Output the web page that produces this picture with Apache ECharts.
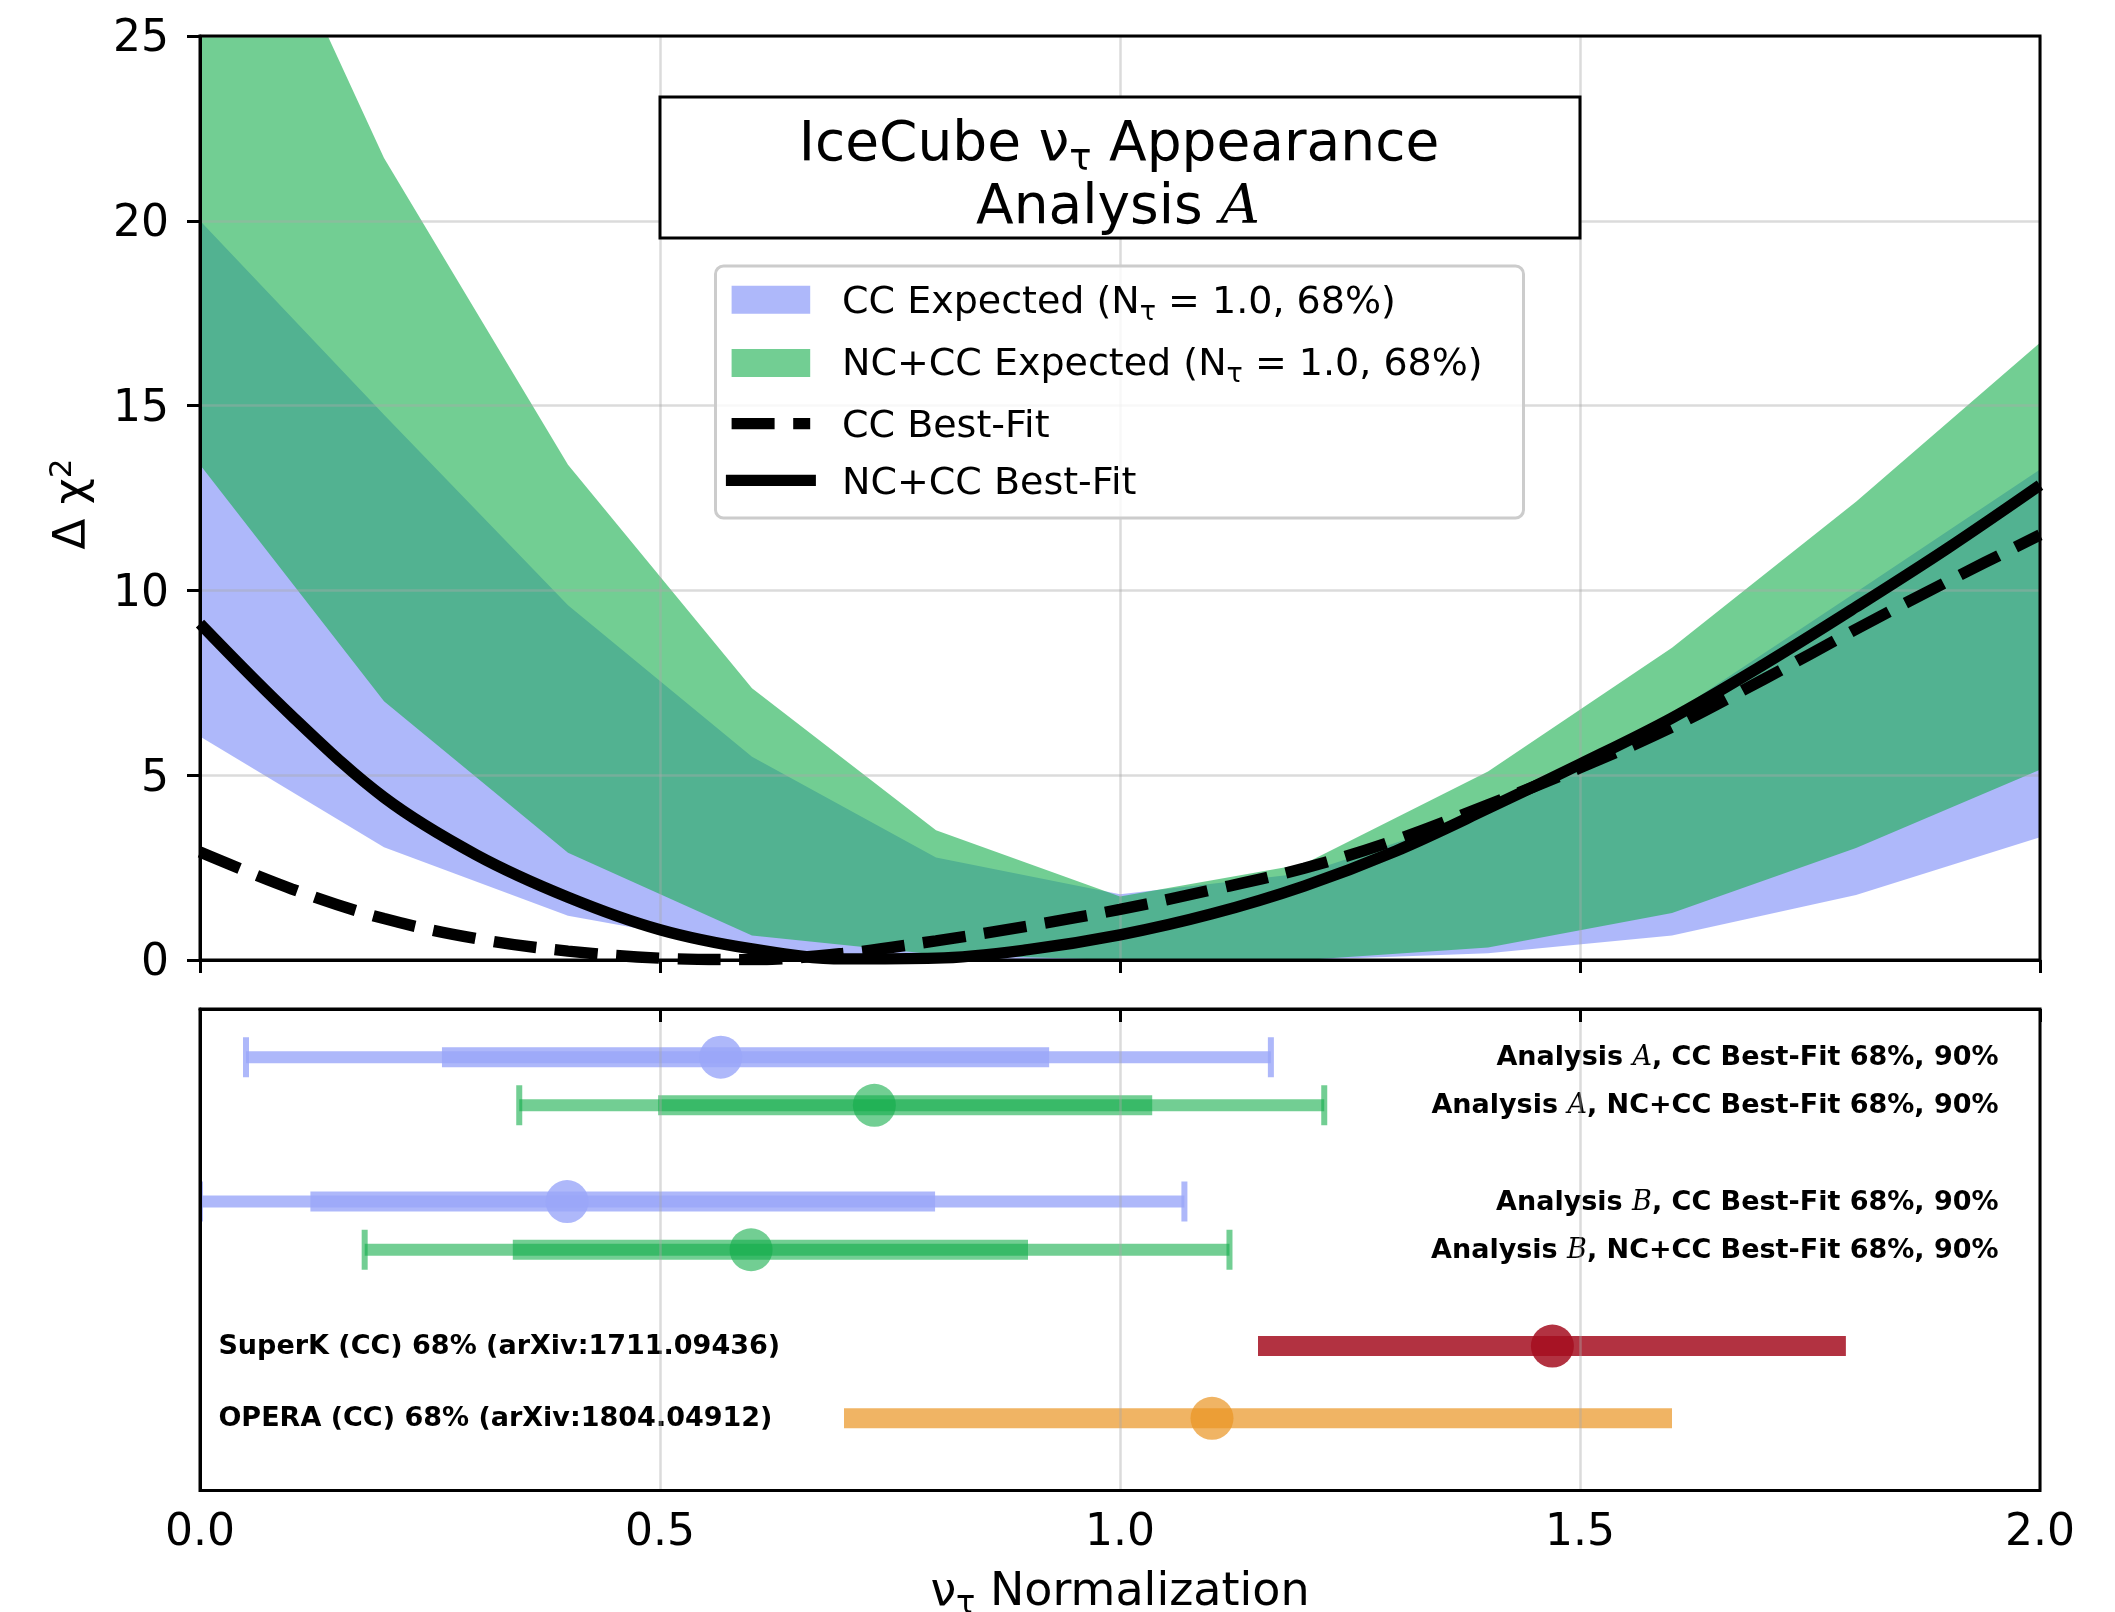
<!DOCTYPE html>
<html>
<head>
<meta charset="utf-8">
<script src="https://cdn.jsdelivr.net/npm/echarts@6/dist/echarts.min.js"></script>
<style>
  html, body { margin: 0; padding: 0; background: #ffffff; }
  #chart { width: 2115px; height: 1612px; }
</style>
</head>
<body>
<div id="chart"></div>
<script>
// ---- Upper panel: expected 68% bands (piecewise linear between scan nodes) ----
const bandX      = [0.0, 0.2, 0.4, 0.6, 0.8, 1.0, 1.2, 1.4, 1.6, 1.8, 2.0];
const ccExpLow   = [6.05, 3.05, 1.20, 0.30, 0.00, 0.00, 0.00, 0.18, 0.66, 1.76, 3.32];
const ccExpHigh  = [20.0, 14.75, 9.60, 5.50, 2.77, 1.78, 2.35, 4.00, 6.65, 9.95, 13.27];
const nccExpLow  = [13.4, 7.00, 2.90, 0.66, 0.15, 0.00, 0.00, 0.34, 1.27, 3.03, 5.15];
const nccExpHigh = [32.5, 21.7, 13.4, 7.35, 3.51, 1.72, 2.60, 5.10, 8.45, 12.4, 16.7];

// ---- Upper panel: best-fit delta chi-square scans ----
const fitX       = [0.0, 0.1, 0.2, 0.3, 0.4, 0.5, 0.6, 0.7, 0.8, 0.9, 1.0,
                    1.1, 1.2, 1.3, 1.4, 1.5, 1.6, 1.7, 1.8, 1.9, 2.0];
const ccBestFit  = [2.92, 1.92, 1.12, 0.58, 0.24, 0.05, 0.01, 0.18, 0.52, 0.92, 1.37,
                    1.90, 2.48, 3.25, 4.20, 5.20, 6.30, 7.60, 8.95, 10.25, 11.5];
const nccBestFit = [9.10, 6.60, 4.40, 2.85, 1.70, 0.82, 0.30, 0.03, 0.05, 0.28, 0.68,
                    1.25, 2.00, 2.95, 4.10, 5.30, 6.55, 8.00, 9.55, 11.15, 12.85];

// ---- Lower panel: best fits with 68% / 90% ranges ----
const rowLabels = [
  'Analysis A, CC Best-Fit 68%, 90%',
  'Analysis A, NC+CC Best-Fit 68%, 90%',
  'Analysis B, CC Best-Fit 68%, 90%',
  'Analysis B, NC+CC Best-Fit 68%, 90%',
  'SuperK (CC) 68% (arXiv:1711.09436)',
  'OPERA (CC) 68% (arXiv:1804.04912)'
];
const rowY     = [1, 2, 4, 5, 7, 8.5];
const rowBest  = [0.566, 0.733, 0.399, 0.599, 1.470, 1.100];
const rowLo68  = [0.263, 0.498, 0.120, 0.340, 1.150, 0.700];
const rowHi68  = [0.923, 1.035, 0.799, 0.900, 1.789, 1.600];
const rowLo90  = [0.050, 0.347, 0.000, 0.179, null, null];
const rowHi90  = [1.164, 1.222, 1.070, 1.119, null, null];

const xTicks = [0.0, 0.5, 1.0, 1.5, 2.0];
const yTicks = [0, 5, 10, 15, 20, 25];

// ---- styling ----
const FONT = "'DejaVu Sans', sans-serif";
const BLUE = 'rgba(154,166,249,0.8)';
const GREEN = 'rgba(20,173,75,0.6)';
const RED = 'rgba(164,14,32,0.85)';
const ORANGE = 'rgba(234,148,34,0.7)';
const rowColor = [BLUE, GREEN, BLUE, GREEN, RED, ORANGE];
const GRIDLINE = 'rgba(170,170,170,0.42)';
const LW = 11.4;

const subRich = (size, lineH, subSize, subLineH) => ({
  m: { fontSize: size, lineHeight: lineH, fontFamily: FONT, color: '#000' },
  s: { fontSize: subSize, lineHeight: subLineH, fontFamily: FONT, color: '#000', verticalAlign: 'bottom' },
  cal: { fontSize: size, lineHeight: lineH, fontFamily: "'DejaVu Serif', serif", fontStyle: 'italic', color: '#000' }
});

function bandSeries(name, lo, hi, color) {
  return {
    type: 'custom', name: name, xAxisIndex: 0, yAxisIndex: 0, clip: true, z: 2,
    silent: true, data: [0],
    renderItem: function (params, api) {
      const pts = [];
      for (let i = 0; i < bandX.length; i++) pts.push(api.coord([bandX[i], hi[i]]));
      for (let i = bandX.length - 1; i >= 0; i--) pts.push(api.coord([bandX[i], lo[i]]));
      return { type: 'polygon', shape: { points: pts }, style: { fill: color } };
    }
  };
}

function seg(a, b, color, w) {
  return { type: 'line', shape: { x1: a[0], y1: a[1], x2: b[0], y2: b[1] },
           style: { stroke: color, lineWidth: w, lineCap: 'butt' } };
}

const rowLabelRich = {
  b: { fontSize: 27, fontWeight: 'bold', fontFamily: FONT, color: '#333333' },
  c: { fontSize: 27, fontStyle: 'italic', fontFamily: "'DejaVu Serif', serif", color: '#333333' }
};
function richRowLabel(txt) {
  const m = txt.match(/^Analysis ([AB])(.*)$/);
  if (m) return '{b|Analysis }{c|' + m[1] + '}{b|' + m[2] + '}';
  return '{b|' + txt + '}';
}

const chart = echarts.init(document.getElementById('chart'), null, { renderer: 'canvas' });

const axisCommon = {
  axisLine: { show: true, lineStyle: { color: '#000', width: 3 } },
  axisTick: { show: true, inside: false, length: 13, lineStyle: { color: '#000', width: 3 } },
  z: 3
};

chart.setOption({
  animation: false,
  backgroundColor: '#ffffff',
  grid: [
    { left: 200, top: 36, width: 1840, height: 924, outerBoundsMode: 'none' },
    { left: 200, top: 1009, width: 1840, height: 481.5, outerBoundsMode: 'none' }
  ],
  xAxis: [
    Object.assign({}, axisCommon, {
      gridIndex: 0, type: 'value', min: xTicks[0], max: xTicks[xTicks.length - 1], interval: 0.5,
      axisLabel: { show: false },
      splitLine: { show: true, lineStyle: { color: GRIDLINE, width: 2.5 } }
    }),
    Object.assign({}, axisCommon, {
      gridIndex: 1, type: 'value', min: xTicks[0], max: xTicks[xTicks.length - 1], interval: 0.5,
      axisLabel: { show: true, fontSize: 44, fontFamily: FONT, color: '#000', margin: 21,
                   showMinLabel: true, showMaxLabel: true, formatter: v => v.toFixed(1) },
      splitLine: { show: true, lineStyle: { color: GRIDLINE, width: 2.5 } }
    })
  ],
  yAxis: [
    Object.assign({}, axisCommon, {
      gridIndex: 0, type: 'value', min: yTicks[0], max: yTicks[yTicks.length - 1], interval: 5,
      axisLabel: { show: true, fontSize: 44, fontFamily: FONT, color: '#000', margin: 31,
                   verticalAlign: 'top', lineHeight: 8,
                   showMinLabel: true, showMaxLabel: true },
      splitLine: { show: true, lineStyle: { color: GRIDLINE, width: 2.5 } }
    }),
    {
      gridIndex: 1, type: 'value', min: 0, max: 10, inverse: true, z: 3,
      axisLine: { show: true, lineStyle: { color: '#000', width: 3 } },
      axisTick: { show: false }, axisLabel: { show: false }, splitLine: { show: false }
    }
  ],
  series: [
    bandSeries('CC Expected', ccExpLow, ccExpHigh, BLUE),
    bandSeries('NC+CC Expected', nccExpLow, nccExpHigh, GREEN),
    {
      type: 'line', name: 'CC Best-Fit', xAxisIndex: 0, yAxisIndex: 0, z: 4,
      data: fitX.map((x, i) => [x, ccBestFit[i]]),
      smooth: 0.35, showSymbol: false, symbol: 'none', clip: true,
      lineStyle: { color: '#000', width: LW, type: [43, 18.6], cap: 'butt' }
    },
    {
      type: 'line', name: 'NC+CC Best-Fit', xAxisIndex: 0, yAxisIndex: 0, z: 4,
      data: fitX.map((x, i) => [x, nccBestFit[i]]),
      smooth: 0.35, showSymbol: false, symbol: 'none', clip: true,
      lineStyle: { color: '#000', width: LW }
    },
    {
      type: 'custom', name: 'ranges', xAxisIndex: 1, yAxisIndex: 1, z: 2, clip: true, silent: true,
      data: rowY.map((y, i) => [rowBest[i], y]),
      renderItem: function (params, api) {
        const i = params.dataIndex;
        const y = rowY[i];
        const c = rowColor[i];
        const kids = [];
        if (rowLo90[i] !== null) {
          const a = api.coord([rowLo90[i], y]);
          const b = api.coord([rowHi90[i], y]);
          kids.push(seg(a, b, c, 12));
          kids.push(seg([a[0], a[1] - 20], [a[0], a[1] + 20], c, 6));
          kids.push(seg([b[0], b[1] - 20], [b[0], b[1] + 20], c, 6));
        }
        const l = api.coord([rowLo68[i], y]);
        const h = api.coord([rowHi68[i], y]);
        kids.push(seg(l, h, c, 20));
        const p = api.coord([rowBest[i], y]);
        kids.push({ type: 'circle', shape: { cx: p[0], cy: p[1], r: 21.5 }, style: { fill: c } });
        const right = rowLo90[i] !== null;
        const t = api.coord([right ? 1.955 : 0.02, y]);
        kids.push({
          type: 'text', x: t[0], y: t[1] + 1,
          style: { text: richRowLabel(rowLabels[i]), rich: rowLabelRich,
                   align: right ? 'right' : 'left', verticalAlign: 'middle' }
        });
        return { type: 'group', children: kids };
      }
    }
  ],
  graphic: [
    // panel frames
    { type: 'rect', z: 60, silent: true, shape: { x: 200, y: 36, width: 1840, height: 924 },
      style: { fill: 'transparent', stroke: '#000', lineWidth: 3 } },
    { type: 'rect', z: 60, silent: true, shape: { x: 200, y: 1009, width: 1840, height: 481.5 },
      style: { fill: 'transparent', stroke: '#000', lineWidth: 3 } },
    // title box
    { type: 'rect', z: 60, silent: true, shape: { x: 660, y: 97, width: 920, height: 141 },
      style: { fill: '#ffffff', stroke: '#000', lineWidth: 3 } },
    { type: 'text', z: 61, silent: true, x: 1119, y: 146,
      style: { text: '{m|IceCube ν}{s|τ}{m| Appearance}', align: 'center', verticalAlign: 'middle',
               rich: subRich(55, 66, 37, 40) } },
    { type: 'text', z: 61, silent: true, x: 1118, y: 209,
      style: { text: '{m|Analysis }{cal|A}', align: 'center', verticalAlign: 'middle',
               rich: subRich(55, 66, 37, 40) } },
    // legend
    { type: 'rect', z: 60, silent: true, shape: { x: 715.5, y: 266, width: 808, height: 252, r: 8 },
      style: { fill: 'rgba(255,255,255,0.8)', stroke: '#cccccc', lineWidth: 3 } },
    { type: 'rect', z: 61, silent: true, shape: { x: 731.6, y: 285.7, width: 78.6, height: 28 },
      style: { fill: BLUE } },
    { type: 'rect', z: 61, silent: true, shape: { x: 731.6, y: 349, width: 78.6, height: 28 },
      style: { fill: GREEN } },
    { type: 'line', z: 61, silent: true, shape: { x1: 731.6, y1: 423.6, x2: 810.2, y2: 423.6 },
      style: { stroke: '#000', lineWidth: LW, lineDash: [43, 18.6], lineCap: 'butt' } },
    { type: 'line', z: 61, silent: true, shape: { x1: 731.6, y1: 480.4, x2: 810.2, y2: 480.4 },
      style: { stroke: '#000', lineWidth: LW, lineCap: 'square' } },
    { type: 'text', z: 61, silent: true, x: 842, y: 303.4,
      style: { text: '{m|CC Expected (N}{s|τ}{m| = 1.0, 68%)}', align: 'left', verticalAlign: 'middle',
               rich: subRich(38, 46, 27, 28) } },
    { type: 'text', z: 61, silent: true, x: 842, y: 365.2,
      style: { text: '{m|NC+CC Expected (N}{s|τ}{m| = 1.0, 68%)}', align: 'left', verticalAlign: 'middle',
               rich: subRich(38, 46, 27, 28) } },
    { type: 'text', z: 61, silent: true, x: 842, y: 427.3,
      style: { text: 'CC Best-Fit', align: 'left', verticalAlign: 'middle',
               fontSize: 38, fontFamily: FONT, fill: '#000' } },
    { type: 'text', z: 61, silent: true, x: 842, y: 484.5,
      style: { text: 'NC+CC Best-Fit', align: 'left', verticalAlign: 'middle',
               fontSize: 38, fontFamily: FONT, fill: '#000' } },
    // axis titles
    { type: 'text', z: 61, silent: true, x: 1120, y: 1593,
      style: { text: '{m|ν}{s|τ}{m| Normalization}', align: 'center', verticalAlign: 'middle',
               rich: subRich(46, 56, 32, 36) } },
    { type: 'text', z: 61, silent: true, x: 73, y: 504, rotation: Math.PI / 2,
      style: { text: '{m|Δ χ}{p|2}', align: 'center', verticalAlign: 'middle',
               rich: {
                 m: { fontSize: 45, lineHeight: 52, fontFamily: FONT, color: '#000' },
                 p: { fontSize: 31, lineHeight: 26, fontFamily: FONT, color: '#000', verticalAlign: 'top' }
               } } }
  ]
});
</script>
</body>
</html>
